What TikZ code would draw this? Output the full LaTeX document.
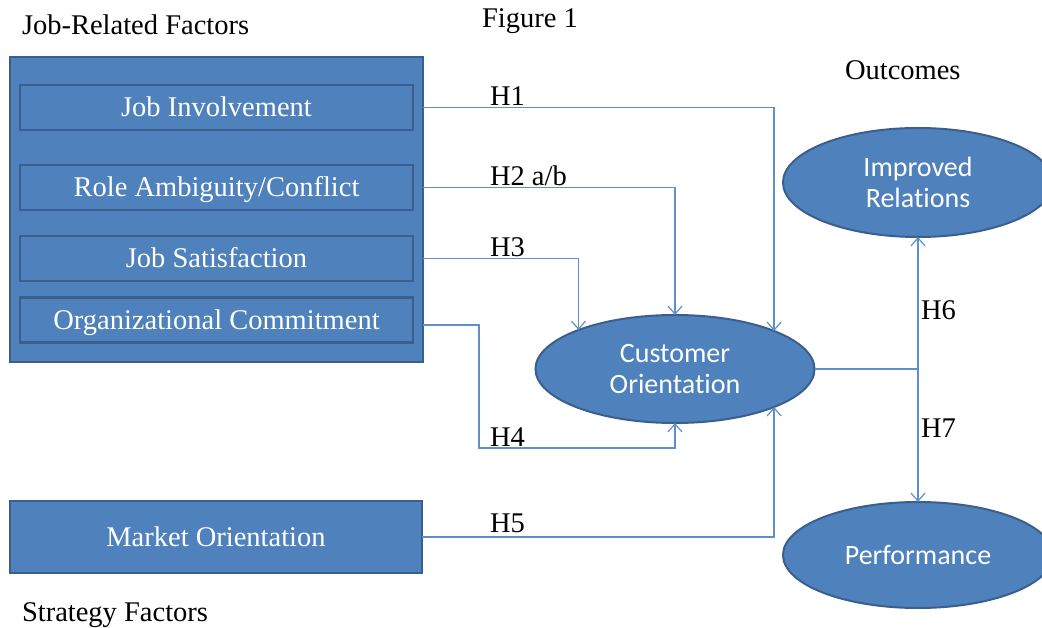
\documentclass[tikz,border=0pt]{standalone}
\usepackage{fontspec}
\setmainfont{Liberation Serif}
\newfontfamily\calibri[Ligatures={NoCommon,NoRare}]{Carlito}
\usetikzlibrary{arrows.meta,shapes.geometric}
\definecolor{boxfill}{RGB}{79,129,189}
\definecolor{boxedge}{RGB}{58,95,140}
\definecolor{linkblue}{RGB}{96,143,206}
\begin{document}
\begin{tikzpicture}[x=1pt,y=-1pt,
  every node/.style={inner sep=0pt,outer sep=0pt},
  panel/.style={draw=boxedge,fill=boxfill,line width=2.5pt},
  boxtext/.style={text=white,text height=18.5pt,text depth=0pt,font=\fontsize{28.5}{32}\selectfont},
  factor/.style={draw=boxedge,line width=2.5pt,minimum width=393pt,minimum height=45pt,boxtext},
  oval/.style={ellipse,draw=boxedge,fill=boxfill,line width=2pt,text=white,
    align=center,font=\calibri\fontsize{28}{31}\selectfont},
  link/.style={draw=linkblue,line width=1.2pt,-{Straight Barb[length=8pt,width=14pt]}},
  caption/.style={font=\fontsize{28.5}{32}\selectfont,anchor=base west},
]
\useasboundingbox (0,0) rectangle (1042,628);
\clip (0,0) rectangle (1042,628);

% headings
\node[caption] (jrf) at (22,35) {Job-Related Factors};
\node[caption] (fig) at (482,28) {Figure 1};
\node[caption] (outc) at (845,80) {Outcomes};
\node[caption] (strat) at (22,621) {Strategy Factors};

% job-related factors panel
\node[panel,minimum width=413pt,minimum height=305pt] (jobpanel) at (216.5,209.5) {};
\node[factor] (ji) at (216.5,107.5) {Job Involvement};
\node[factor] (ra) at (216.5,187.5) {Role Ambiguity/Conflict};
\node[factor] (js) at (216.5,258.5) {Job Satisfaction};
\node[factor] (oc) at (216.5,320) {Organizational Commitment};

% strategy factor
\node[panel,minimum width=412pt,minimum height=72pt,boxtext] (mo) at (216,537) {Market Orientation};

% constructs
\node[oval,minimum width=279pt,minimum height=108pt] (co) at (675,369) {Customer\\Orientation};
\node[oval,minimum width=270pt,minimum height=109pt] (ir) at (918,182.5) {Improved\\Relations};
\node[oval,minimum width=270pt,minimum height=106pt] (perf) at (918,555) {Performance};

% hypothesised paths
\draw[link] (jobpanel.east |- ji) -| (co.21.4);
\draw[link] (jobpanel.east |- ra) -| (co.north);
\draw[link] (jobpanel.east |- js) -| (co.158.6);
\draw[link] ([yshift=-5pt]jobpanel.east |- oc) -| (479,448) -| (co.south);
\draw[link] (mo.east) -| (co.-21.4);
\draw[link] (co.east) -| (ir.south);
\draw[link] (co.east) -| (perf.north);

% path labels
\node[caption] (h1) at (490,106) {H1};
\node[caption] (h2) at (490,186) {H2 a/b};
\node[caption] (h3) at (490,257) {H3};
\node[caption] (h4) at (490,446) {H4};
\node[caption] (h5) at (490,532) {H5};
\node[caption] (h6) at (921,320) {H6};
\node[caption] (h7) at (921,437) {H7};
\end{tikzpicture}
\end{document}
